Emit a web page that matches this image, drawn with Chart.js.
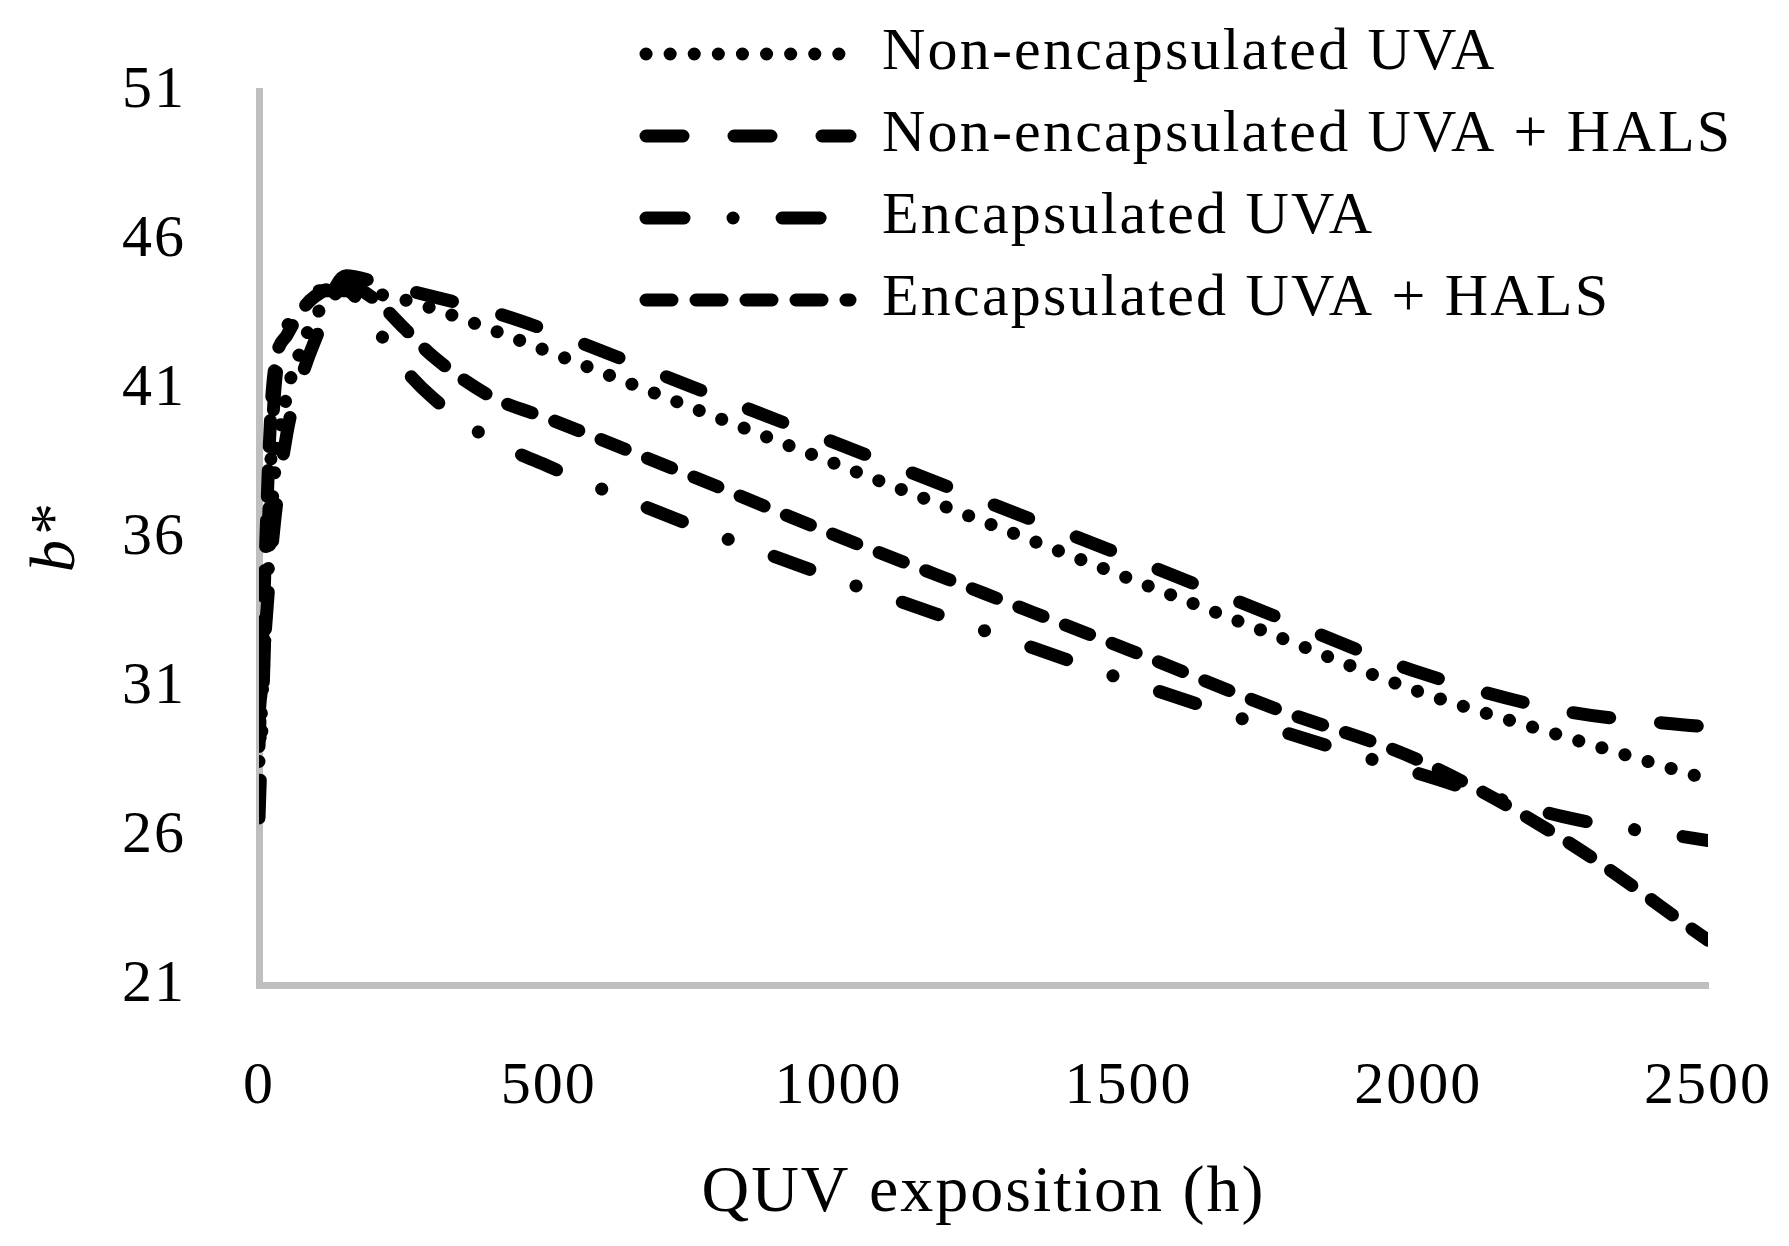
<!DOCTYPE html>
<html>
<head>
<meta charset="utf-8">
<script src="https://cdn.jsdelivr.net/npm/chart.js@4.4.1/dist/chart.umd.min.js"></script>
<style>
  html, body { margin: 0; padding: 0; background: #fff; }
  #quvChart { display: block; }
</style>
</head>
<body>
<canvas id="quvChart" width="1789" height="1246"></canvas>
<script>
// QUV exposure time (h)
const hours = [0, 24, 48, 72, 96, 150, 200, 250, 300, 400, 500, 750, 1000, 1250, 1500, 1750, 2000, 2250, 2500];

// b* values
const nonEncUva = [28.5, 37.5, 40.8, 42.3, 43.4, 44.3, 44.2, 44.0, 43.7, 43.0, 42.25, 40.35, 38.45, 36.55, 34.65, 32.75, 30.85, 29.35, 27.9];
const nonEncUvaHals = [30.0, 36.0, 39.5, 41.3, 42.6, 44.8, 44.6, 44.35, 44.1, 43.6, 42.95, 41.05, 39.15, 37.25, 35.35, 33.4, 31.5, 30.2, 29.65];
const encUva = [26.6, 40.0, 43.0, 43.9, 44.3, 44.3, 43.1, 41.7, 40.7, 39.3, 38.4, 36.4, 34.6, 32.9, 31.2, 29.6, 28.1, 26.65, 25.85];
const encUvaHals = [29.0, 41.2, 42.8, 43.6, 44.1, 44.5, 44.0, 43.05, 42.1, 40.75, 40.0, 38.05, 36.05, 34.15, 32.25, 30.3, 28.55, 25.9, 22.5];

const seriesNames = [
  "Non-encapsulated UVA",
  "Non-encapsulated UVA + HALS",
  "Encapsulated UVA",
  "Encapsulated UVA + HALS",
];

const xTicks = [0, 500, 1000, 1500, 2000, 2500];
const yTicks = [21, 26, 31, 36, 41, 46, 51];

const serif = "'Liberation Serif', 'Times New Roman', serif";

function toPoints(values) {
  return hours.map((h, i) => ({ x: h, y: values[i] }));
}

function lineSet(label, values, dash) {
  return {
    label: label,
    data: toPoints(values),
    borderColor: "#000",
    borderWidth: 13,
    borderDash: dash,
    borderCapStyle: "round",
    borderJoinStyle: "round",
    pointRadius: 0,
    fill: false,
    cubicInterpolationMode: "monotone",
  };
}

// the original font is wider than Liberation Serif, so space the letters a bit
const spacing = {
  id: "spacing",
  beforeLayout(chart) {
    chart.ctx.letterSpacing = "2px";
  },
  beforeDraw(chart) {
    chart.ctx.letterSpacing = "2px";
  },
};

// legend drawn top right, over the plot like the original
const sideLegend = {
  id: "sideLegend",
  afterDraw(chart) {
    const ctx = chart.ctx;
    ctx.save();
    chart.data.datasets.forEach((ds, i) => {
      const y = 54 + i * 82;
      ctx.beginPath();
      ctx.setLineDash(ds.borderDash);
      ctx.lineCap = "round";
      ctx.lineWidth = ds.borderWidth;
      ctx.strokeStyle = ds.borderColor;
      ctx.moveTo(646, y);
      ctx.lineTo(850, y);
      ctx.stroke();
      ctx.setLineDash([]);
      ctx.fillStyle = "#000";
      ctx.font = "60px " + serif;
      ctx.letterSpacing = "2.2px";
      ctx.textBaseline = "middle";
      ctx.textAlign = "left";
      ctx.fillText(ds.label, 882, y - 1);
    });
    ctx.restore();
  },
};

const quvData = {
  datasets: [
    lineSet(seriesNames[0], nonEncUva, [0.1, 24]),
    lineSet(seriesNames[1], nonEncUvaHals, [37, 51]),
    lineSet(seriesNames[2], encUva, [38, 49, 0.1, 49]),
    lineSet(seriesNames[3], encUvaHals, [26, 24]),
  ],
};

const quvConfig = {
  type: "line",
  data: quvData,
  options: {
    responsive: false,
    animation: false,
    layout: {
      padding: { top: 91, right: 81, bottom: 0, left: 0 },
    },
    plugins: {
      legend: { display: false },
      tooltip: { enabled: false },
    },
    scales: {
      x: {
        type: "linear",
        min: 0,
        max: 2500,
        afterBuildTicks: (scale) => {
          scale.ticks = xTicks.map((v) => ({ value: v }));
        },
        afterFit: (scale) => {
          scale.height = 261;
          scale.paddingLeft = 0;
          scale.paddingRight = 0;
        },
        ticks: {
          color: "#000",
          font: { family: serif, size: 60 },
          padding: 66,
          maxRotation: 0,
          callback: (v) => String(v),
        },
        grid: { display: false, drawTicks: false },
        border: { display: true, color: "#bfbfbf", width: 7 },
        title: {
          display: true,
          text: "QUV exposition (h)",
          color: "#000",
          font: { family: serif, size: 66 },
          padding: { top: 0, bottom: 13 },
        },
      },
      y: {
        min: 21,
        max: 51,
        afterBuildTicks: (scale) => {
          scale.ticks = yTicks.map((v) => ({ value: v }));
        },
        afterFit: (scale) => {
          scale.width = 259;
          scale.paddingTop = 0;
          scale.paddingBottom = 0;
        },
        ticks: {
          color: "#000",
          font: { family: serif, size: 60 },
          padding: 73,
        },
        grid: { display: false, drawTicks: false },
        border: { display: true, color: "#bfbfbf", width: 7 },
        title: {
          display: true,
          text: "b*",
          color: "#000",
          font: { family: serif, size: 64, style: "italic" },
          padding: { top: 19, bottom: 0 },
        },
      },
    },
  },
  plugins: [spacing, sideLegend],
};

const quvCtx = document.getElementById("quvChart");
const quvChart = new Chart(quvCtx, quvConfig);
</script>
</body>
</html>
